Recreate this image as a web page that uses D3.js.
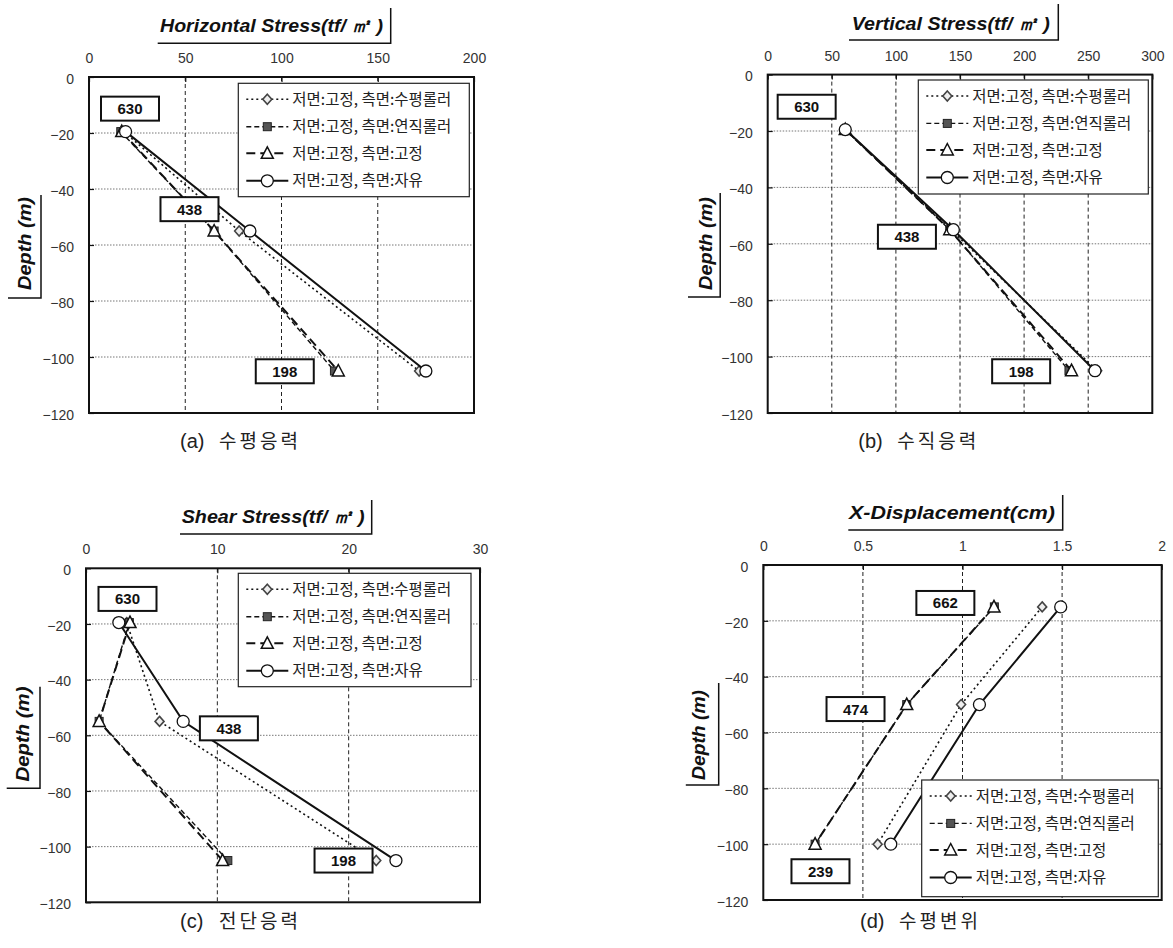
<!DOCTYPE html>
<html>
<head>
<meta charset="utf-8">
<script src="https://cdn.jsdelivr.net/npm/d3@7"></script>
<style>
  body { margin: 0; background: #fff; }
  svg { display: block; }
</style>
</head>
<body>
<svg id="chart" width="1173" height="948"></svg>
<script>
// ---- Series names (boundary conditions: bottom fixed, side varies) ----
const seriesNames = [
  "저면:고정, 측면:수평롤러",
  "저면:고정, 측면:연직롤러",
  "저면:고정, 측면:고정",
  "저면:고정, 측면:자유"
];

// ---- Depths of the result points (m) ----
const stressDepths = [-19.5, -55, -105];
const dispDepths = [-15, -50, -100];
const depthTicks = [0, -20, -40, -60, -80, -100, -120];

// ---- (a) Horizontal stress (tf/㎡) ----
const hsHorizRoller = [18, 78, 171.5];
const hsVertRoller = [16.5, 65, 127.5];
const hsFixed = [17, 65, 129.5];
const hsFree = [19, 83.6, 175];
const hsTicks = [0, 50, 100, 150, 200];
const hsNoteText = ["630", "438", "198"];
const hsNoteX = [21.3, 52.2, 101.7];
const hsNoteDepth = [-11.3, -47.2, -105.1];

// ---- (b) Vertical stress (tf/㎡) ----
const vsHorizRoller = [60.5, 143, 257];
const vsVertRoller = [60.5, 142, 235];
const vsFixed = [60.5, 142, 237];
const vsFree = [60.5, 144.8, 255.3];
const vsTicks = [0, 50, 100, 150, 200, 250, 300];
const vsNoteText = ["630", "438", "198"];
const vsNoteX = [30.4, 108.6, 197.7];
const vsNoteDepth = [-11.4, -57.5, -105.2];

// ---- (c) Shear stress (tf/㎡) ----
const ssHorizRoller = [3.1, 5.6, 22.1];
const ssVertRoller = [3.3, 1.0, 10.8];
const ssFixed = [3.35, 1.0, 10.4];
const ssFree = [2.5, 7.4, 23.6];
const ssTicks = [0, 10, 20, 30];
const ssNoteText = ["630", "438", "198"];
const ssNoteX = [3.16, 10.88, 19.61];
const ssNoteDepth = [-11.0, -57.5, -105.0];

// ---- (d) Horizontal displacement (cm) ----
const xdHorizRoller = [1.40, 0.993, 0.574];
const xdVertRoller = [1.16, 0.72, 0.26];
const xdFixed = [1.158, 0.72, 0.26];
const xdFree = [1.493, 1.085, 0.64];
const xdTicks = [0, 0.5, 1, 1.5, 2];
const xdNoteText = ["662", "474", "239"];
const xdNoteX = [0.914, 0.463, 0.287];
const xdNoteDepth = [-13.6, -51.6, -109.7];

// ---- Line / marker styles per boundary condition ----
const seriesStyle = [
  { dash: "2,3", width: 1.6, marker: "diamond" },
  { dash: "5,3", width: 1.4, marker: "square" },
  { dash: "9,5", width: 2.0, marker: "triangle" },
  { dash: null, width: 2.0, marker: "circle" }
];

const svg = d3.select("#chart");
const LATIN = "'Liberation Sans', Arial, sans-serif";
const KOREAN = "'Noto Sans CJK KR', 'Noto Sans', sans-serif";

function drawMarker(g, type, cx, cy) {
  if (type === "diamond") {
    g.append("path")
      .attr("d", `M${cx},${cy - 5}L${cx + 4.5},${cy}L${cx},${cy + 5}L${cx - 4.5},${cy}Z`)
      .attr("fill", "#eee").attr("stroke", "#444").attr("stroke-width", 1.6);
  } else if (type === "square") {
    g.append("rect").attr("x", cx - 4).attr("y", cy - 4).attr("width", 8).attr("height", 8)
      .attr("fill", "#555").attr("stroke", "#222").attr("stroke-width", 1);
  } else if (type === "triangle") {
    g.append("path")
      .attr("d", `M${cx},${cy - 6.5}L${cx + 6},${cy + 5}L${cx - 6},${cy + 5}Z`)
      .attr("fill", "#fff").attr("stroke", "#111").attr("stroke-width", 1.5);
  } else {
    g.append("circle").attr("cx", cx).attr("cy", cy).attr("r", 6)
      .attr("fill", "#fff").attr("stroke", "#111").attr("stroke-width", 1.3);
  }
}

function drawPanel(p) {
  const g = svg.append("g");
  const x = d3.scaleLinear().domain([0, p.ticks[p.ticks.length - 1]]).range([p.x0, p.x1]);
  const y = d3.scaleLinear().domain([0, -120]).range([p.y0, p.y1]);

  // grid: dotted horizontal, dashed vertical
  g.append("g").selectAll("line").data(depthTicks.slice(1, -1)).join("line")
    .attr("x1", p.x0).attr("x2", p.x1)
    .attr("y1", d => y(d)).attr("y2", d => y(d))
    .attr("stroke", "#777").attr("stroke-width", 1).attr("stroke-dasharray", "1.5,1.5");
  g.append("g").selectAll("line").data(p.ticks.slice(1, -1)).join("line")
    .attr("x1", d => x(d)).attr("x2", d => x(d))
    .attr("y1", p.y0).attr("y2", p.y1)
    .attr("stroke", "#222").attr("stroke-width", 1).attr("stroke-dasharray", "4,3");

  // axes (value axis on top, depth axis on left)
  const styleAxis = a => {
    a.select(".domain").remove();
    a.selectAll("line").attr("stroke", "#111").attr("stroke-width", 1.2);
    a.selectAll("text").attr("font-family", LATIN).attr("font-size", 14).attr("fill", "#333");
  };
  g.append("g").attr("transform", `translate(0,${p.y0})`)
    .call(d3.axisTop(x).tickValues(p.ticks).tickSizeInner(-5).tickSizeOuter(0)
      .tickPadding(14).tickFormat(d3.format("")))
    .call(styleAxis);
  g.append("g").attr("transform", `translate(${p.x0},0)`)
    .call(d3.axisLeft(y).tickValues(depthTicks).tickSizeInner(-5).tickSizeOuter(0)
      .tickPadding(15).tickFormat(d3.format("")))
    .call(styleAxis)
    .call(a => a.selectAll("text").attr("dy", "0.45em"));

  // series
  const line = d3.line().x(d => x(d.v)).y(d => y(d.d));
  p.series.forEach((vals, i) => {
    const st = seriesStyle[i];
    const pts = p.depths.map((d, k) => ({ d: d, v: vals[k] }));
    g.append("path").datum(pts).attr("d", line)
      .attr("fill", "none").attr("stroke", "#111")
      .attr("stroke-width", st.width)
      .attr("stroke-dasharray", st.dash);
    const mg = g.append("g");
    pts.forEach(pt => drawMarker(mg, st.marker, x(pt.v), y(pt.d)));
  });

  // plot frame
  g.append("rect").attr("x", p.x0).attr("y", p.y0)
    .attr("width", p.x1 - p.x0).attr("height", p.y1 - p.y0)
    .attr("fill", "none").attr("stroke", "#111").attr("stroke-width", 2);

  // element-number call-outs
  p.notes.forEach((t, k) => {
    const cx = x(p.noteX[k]), cy = y(p.noteDepth[k]);
    g.append("rect").attr("x", cx - 29).attr("y", cy - 12).attr("width", 58).attr("height", 24)
      .attr("fill", "#fff").attr("stroke", "#111").attr("stroke-width", 2);
    g.append("text").attr("x", cx).attr("y", cy + 5.5).attr("text-anchor", "middle")
      .attr("font-family", LATIN).attr("font-weight", "bold").attr("font-size", 15)
      .attr("fill", "#111").text(t);
  });

  // legend
  const [lx, ly, lw, lh] = p.legend;
  const lg = g.append("g");
  lg.append("rect").attr("x", lx).attr("y", ly).attr("width", lw).attr("height", lh)
    .attr("fill", "#fff").attr("stroke", "#222").attr("stroke-width", 1.2);
  const rowOffsets = [16, 43.4, 70, 97.5];
  seriesNames.forEach((name, i) => {
    const st = seriesStyle[i];
    const ry = ly + rowOffsets[i];
    lg.append("line").attr("x1", lx + 8).attr("x2", lx + 50).attr("y1", ry).attr("y2", ry)
      .attr("stroke", "#111").attr("stroke-width", st.width).attr("stroke-dasharray", st.dash);
    drawMarker(lg, st.marker, lx + 29, ry);
    lg.append("text").attr("x", lx + 54).attr("y", ry + 5.5)
      .attr("font-family", KOREAN).attr("font-size", 15.5).attr("fill", "#222").text(name);
  });

  // value-axis title with its corner rule
  const t = p.title;
  g.append("text").attr("x", t.x).attr("y", t.base)
    .attr("font-family", LATIN).attr("font-weight", "bold").attr("font-style", "italic")
    .attr("font-size", 19).attr("fill", "#111")
    .attr("textLength", t.len).attr("lengthAdjust", "spacingAndGlyphs").text(t.text);
  g.append("path")
    .attr("d", `M${t.ux0},${t.uy}H${t.ux1}V${t.barTop}`)
    .attr("fill", "none").attr("stroke", "#111").attr("stroke-width", 1.5);

  // depth-axis title with its corner rule
  const dl = p.depthLabel;
  g.append("text").attr("transform", `translate(${dl.cx},${dl.cy}) rotate(-90)`)
    .attr("text-anchor", "middle").attr("dy", "0.35em")
    .attr("font-family", LATIN).attr("font-weight", "bold").attr("font-style", "italic")
    .attr("font-size", 19).attr("fill", "#111")
    .attr("textLength", dl.len).attr("lengthAdjust", "spacingAndGlyphs").text("Depth (m)");
  g.append("path")
    .attr("d", `M${dl.lx0},${dl.ly1}H${dl.lx}V${dl.ly0}`)
    .attr("fill", "none").attr("stroke", "#111").attr("stroke-width", 1.5);

  // caption below the panel
  const c = p.caption;
  const ct = g.append("text").attr("y", c.base)
    .attr("font-family", KOREAN).attr("font-size", 19).attr("fill", "#222");
  ct.append("tspan").attr("x", c.x).attr("font-family", LATIN).attr("font-size", 20).text(c.tag);
  ct.append("tspan").attr("x", c.x + 39).attr("letter-spacing", 3).text(c.text);
}

drawPanel({
  x0: 89, x1: 474, y0: 77, y1: 413, ticks: hsTicks, depths: stressDepths,
  series: [hsHorizRoller, hsVertRoller, hsFixed, hsFree],
  notes: hsNoteText, noteX: hsNoteX, noteDepth: hsNoteDepth,
  legend: [238.3, 83.3, 231, 113.4],
  title: { text: "Horizontal Stress(tf/ ㎡ )", x: 160, base: 32, len: 223, ux0: 157.7, ux1: 390.7, uy: 43.3, barTop: 8 },
  depthLabel: { cx: 24, cy: 243.5, len: 93, lx: 41, ly0: 195, ly1: 298, lx0: 8 },
  caption: { tag: "(a)", text: "수평응력", x: 180, base: 448 }
});

drawPanel({
  x0: 767.7, x1: 1152.3, y0: 74.6, y1: 413, ticks: vsTicks, depths: stressDepths,
  series: [vsHorizRoller, vsVertRoller, vsFixed, vsFree],
  notes: vsNoteText, noteX: vsNoteX, noteDepth: vsNoteDepth,
  legend: [918.3, 80, 230, 114],
  title: { text: "Vertical Stress(tf/ ㎡ )", x: 851.7, base: 30, len: 198, ux0: 849, ux1: 1058.3, uy: 40, barTop: 4 },
  depthLabel: { cx: 705, cy: 243.5, len: 93, lx: 720.2, ly0: 193, ly1: 297, lx0: 688 },
  caption: { tag: "(b)", text: "수직응력", x: 858.3, base: 448 }
});

drawPanel({
  x0: 86, x1: 480, y0: 568.3, y1: 902.3, ticks: ssTicks, depths: stressDepths,
  series: [ssHorizRoller, ssVertRoller, ssFixed, ssFree],
  notes: ssNoteText, noteX: ssNoteX, noteDepth: ssNoteDepth,
  legend: [238.3, 573.3, 232.7, 113.4],
  title: { text: "Shear Stress(tf/ ㎡ )", x: 181.7, base: 522.7, len: 183, ux0: 180, ux1: 371.7, uy: 534, barTop: 500 },
  depthLabel: { cx: 22.5, cy: 734, len: 95, lx: 40, ly0: 686.7, ly1: 788.3, lx0: 6.7 },
  caption: { tag: "(c)", text: "전단응력", x: 180, base: 928 }
});

drawPanel({
  x0: 763.3, x1: 1161.7, y0: 565, y1: 900, ticks: xdTicks, depths: dispDepths,
  series: [xdHorizRoller, xdVertRoller, xdFixed, xdFree],
  notes: xdNoteText, noteX: xdNoteX, noteDepth: xdNoteDepth,
  legend: [921.7, 780, 236.6, 116.7],
  title: { text: "X-Displacement(cm)", x: 849, base: 519.3, len: 206, ux0: 848.3, ux1: 1062.7, uy: 530, barTop: 495 },
  depthLabel: { cx: 698.6, cy: 735, len: 90, lx: 718.7, ly0: 683, ly1: 785, lx0: 685.8 },
  caption: { tag: "(d)", text: "수평변위", x: 860, base: 927.5 }
});
</script>
</body>
</html>
